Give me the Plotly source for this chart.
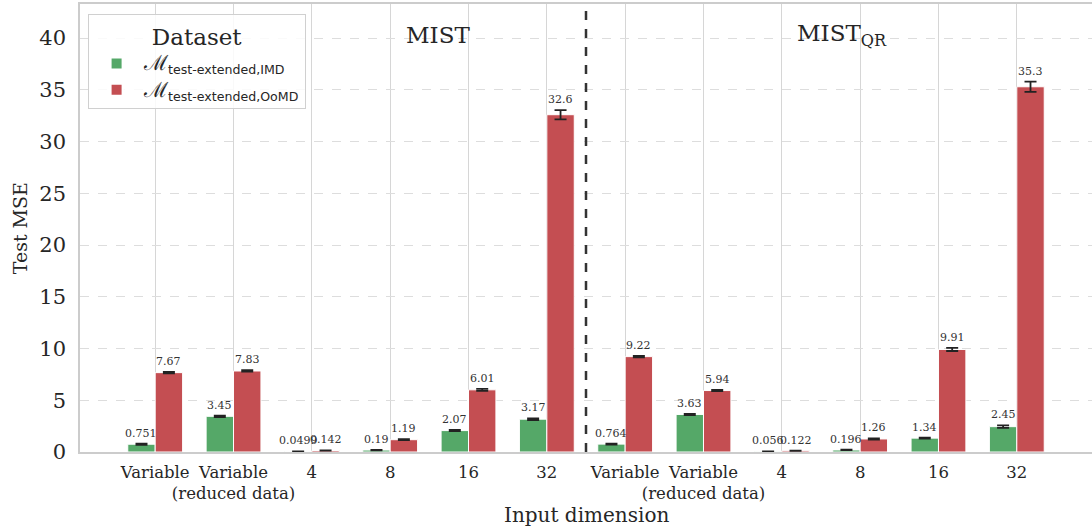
import plotly.graph_objects as go

tick_labels = ["Variable", "Variable<br>(reduced data)", "4", "8", "16", "32",
               "Variable", "Variable<br>(reduced data)", "4", "8", "16", "32"]
imd_values = [0.751, 3.45, 0.0499, 0.19, 2.07, 3.17,
              0.764, 3.63, 0.056, 0.196, 1.34, 2.45]
oomd_values = [7.67, 7.83, 0.142, 1.19, 6.01, 32.6,
               9.22, 5.94, 0.122, 1.26, 9.91, 35.3]
imd_err = [0.05, 0.07, 0.01, 0.02, 0.06, 0.08,
           0.04, 0.06, 0.01, 0.02, 0.05, 0.12]
oomd_err = [0.08, 0.07, 0.01, 0.05, 0.1, 0.45,
            0.06, 0.05, 0.01, 0.05, 0.15, 0.5]
imd_labels = ["0.751", "3.45", "0.0499", "0.19", "2.07", "3.17",
              "0.764", "3.63", "0.056", "0.196", "1.34", "2.45"]
oomd_labels = ["7.67", "7.83", "0.142", "1.19", "6.01", "32.6",
               "9.22", "5.94", "0.122", "1.26", "9.91", "35.3"]
dataset_names = ["MIST", "MIST<sub>QR</sub>"]
series_names = ["test-extended,IMD", "test-extended,OoMD"]
x_title = "Input dimension"
y_title = "Test MSE"

GREEN = "#55A868"
RED = "#C44E52"
SERIF = "DejaVu Serif"
BAR_GAP = 0.3
HALF = (1 - BAR_GAP) / 4  # centre offset of each bar in a group

xs = list(range(len(tick_labels)))
M = "<span style='font-family:DejaVu Serif;font-size:21px'>ℳ</span>"

fig = go.Figure()
err_style = dict(type="data", visible=True, color="#222222", thickness=1.8, width=6)
fig.add_trace(go.Bar(
    x=xs, y=imd_values, name=M + "<sub>" + series_names[0] + "</sub>",
    marker=dict(color=GREEN, line=dict(color="white", width=1)),
    error_y=dict(array=imd_err, **err_style)))
fig.add_trace(go.Bar(
    x=xs, y=oomd_values, name=M + "<sub>" + series_names[1] + "</sub>",
    marker=dict(color=RED, line=dict(color="white", width=1)),
    error_y=dict(array=oomd_err, **err_style)))

annotations = []
for i in xs:
    for off, vals, errs, labs in ((-HALF, imd_values, imd_err, imd_labels),
                                  (HALF, oomd_values, oomd_err, oomd_labels)):
        annotations.append(dict(
            x=i + off, y=vals[i] + errs[i], xref="x", yref="y",
            text=labs[i], showarrow=False, yanchor="bottom", yshift=2,
            font=dict(family=SERIF, size=11, color="#333333")))

annotations.append(dict(x=3.17, y=40.3, xref="x", yref="y", text=dataset_names[0],
                        showarrow=False, xanchor="left", yanchor="middle",
                        font=dict(family=SERIF, size=23, color="#262626")))
annotations.append(dict(x=8.17, y=40.3, xref="x", yref="y", text=dataset_names[1],
                        showarrow=False, xanchor="left", yanchor="middle",
                        font=dict(family=SERIF, size=23, color="#262626")))
annotations.append(dict(x=0.5, y=-0.141, xref="paper", yref="paper", text=x_title,
                        showarrow=False, xanchor="center", yanchor="middle",
                        font=dict(family=SERIF, size=20, color="#262626")))
annotations.append(dict(x=-0.059, y=0.5, xref="paper", yref="paper", text=y_title,
                        showarrow=False, xanchor="center", yanchor="middle", textangle=-90,
                        font=dict(family=SERIF, size=19, color="#262626")))

fig.add_shape(type="line", x0=5.5, x1=5.5, xref="x", y0=0, y1=1, yref="paper",
              line=dict(color="#333333", width=2.5, dash="dash"))

fig.update_layout(
    width=1092, height=531,
    margin=dict(l=80, r=0, t=4, b=79),
    paper_bgcolor="white", plot_bgcolor="white",
    barmode="group", bargap=BAR_GAP, bargroupgap=0.0,
    annotations=annotations,
    font=dict(family=SERIF, color="#262626"),
    legend=dict(
        x=0.008, y=0.977, xanchor="left", yanchor="top",
        bgcolor="rgba(255,255,255,0.85)", bordercolor="#d0d0d0", borderwidth=1,
        title=dict(text="Dataset", side="top center",
                   font=dict(family=SERIF, size=23, color="#262626")),
        font=dict(family="DejaVu Sans", size=18, color="#262626"),
        itemwidth=45, tracegroupgap=8, itemsizing="constant"),
    xaxis=dict(
        range=[-0.96, 11.96], tickmode="array", tickvals=xs, ticktext=tick_labels,
        tickangle=0, automargin=False,
        showgrid=True, gridcolor="#d6d6d6", gridwidth=1.2,
        showline=True, linecolor="#cccccc", linewidth=1.5, mirror=True,
        ticks="outside", ticklen=4, tickcolor="rgba(0,0,0,0)",
        tickfont=dict(family=SERIF, size=16.5, color="#262626"),
        zeroline=False),
    yaxis=dict(
        range=[0, 43.3], tickmode="array", tickvals=[0, 5, 10, 15, 20, 25, 30, 35, 40],
        automargin=False,
        showgrid=True, gridcolor="#dddddd", gridwidth=1, griddash="dash",
        showline=True, linecolor="#cccccc", linewidth=1.5, mirror=True,
        ticks="outside", ticklen=8, tickcolor="rgba(0,0,0,0)",
        tickfont=dict(family=SERIF, size=21, color="#262626"),
        zeroline=False),
)

fig.write_html("out.html")
